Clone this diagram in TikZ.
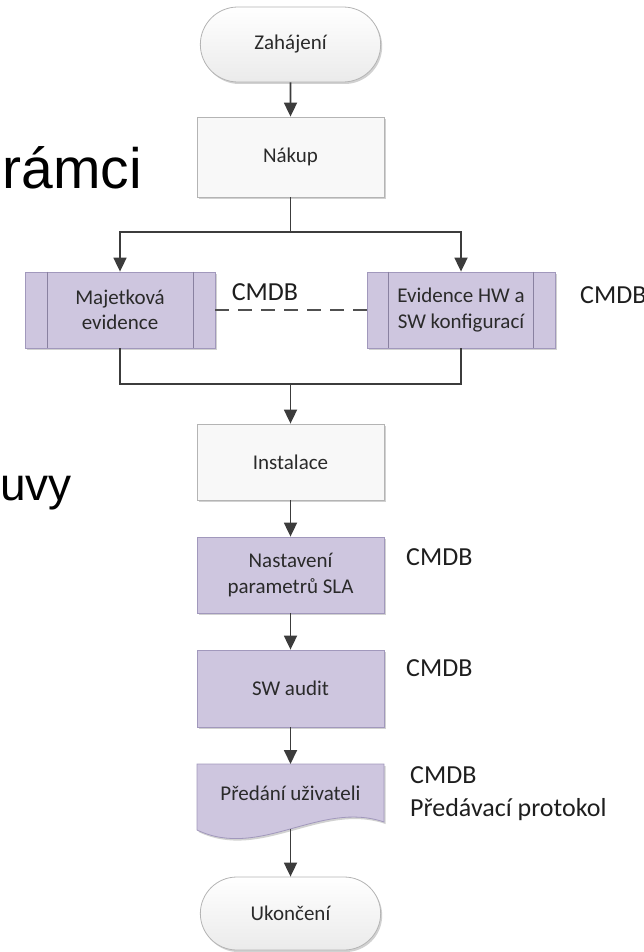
\documentclass[tikz,border=0pt]{standalone}
\usepackage{fontspec}
\setmainfont{Carlito}
\newfontfamily\arialfont{Liberation Sans}
\usetikzlibrary{arrows.meta,shapes.misc,calc,shadows}
\definecolor{linec}{HTML}{3C3C3C}
\definecolor{lightfill}{HTML}{F8F8F8}
\definecolor{lightborder}{HTML}{B4B4B4}
\definecolor{purplefill}{HTML}{CEC6DF}
\definecolor{purpleborder}{HTML}{A198BC}
\definecolor{boxtext}{HTML}{2A2A2A}
\definecolor{labeltext}{HTML}{1E1E1E}
\newcommand{\boxfont}{\fontsize{21}{25.5}\selectfont}
\newcommand{\labfont}{\fontsize{26}{33}\selectfont}
\newcommand{\bigfont}{\arialfont\fontsize{57}{64}\selectfont}
\newcommand{\midfont}{\arialfont\fontsize{46}{52}\selectfont}
\begin{document}
\begin{tikzpicture}[x=1pt,y=-1pt,
  conn/.style={draw=linec, line width=1.8pt, -{Triangle[length=14pt,width=13pt]}},
  plainline/.style={draw=linec, line width=1.8pt},
  dashline/.style={draw=linec!90, line width=1.6pt, dash pattern=on 14pt off 9pt},
  softshadow/.style={drop shadow={shadow xshift=1.5pt, shadow yshift=-2pt, opacity=0.18, fill=black}},
  basebox/.style={rectangle, minimum width=187pt, minimum height=77pt, inner sep=2pt,
    text=boxtext, font=\boxfont, align=center, line width=0.8pt, softshadow},
  lightbox/.style={basebox, draw=lightborder, fill=lightfill},
  purplebox/.style={basebox, draw=purpleborder, fill=purplefill},
  terminal/.style={rounded rectangle, minimum width=187pt, minimum height=75pt,
    draw=lightborder, line width=0.8pt, top color=white, bottom color=black!8,
    text=boxtext, font=\boxfont, softshadow},
  cmdb/.style={text=labeltext, font=\labfont, inner sep=0pt, align=left},
  bigtext/.style={text=black, font=\bigfont, inner sep=0pt}
]
\useasboundingbox (0,0) rectangle (643,952);

% large background words
\node[bigtext, anchor=base east] (w1) at (142,188) {rámci};
\node[bigtext, font=\midfont, anchor=base east] (w2) at (72,500) {uvy};

% nodes
\node[terminal] (zah) at (290.5,44.5) {Zahájení};
\node[lightbox, minimum height=80pt] (nak) at (290.5,157) {Nákup};
\node[purplebox, minimum width=190pt, minimum height=76pt] (maj) at (120,310) {Majetková\\evidence};
\node[purplebox, minimum width=188pt, minimum height=76pt] (evi) at (461,310) {Evidence HW a\\SW konfigurací};
\draw[purpleborder!85!black, line width=0.8pt] ($(maj.north west)+(23,0)$) -- ($(maj.south west)+(23,0)$);
\draw[purpleborder!85!black, line width=0.8pt] ($(maj.north east)+(-22,0)$) -- ($(maj.south east)+(-22,0)$);
\draw[purpleborder!85!black, line width=0.8pt] ($(evi.north west)+(22,0)$) -- ($(evi.south west)+(22,0)$);
\draw[purpleborder!85!black, line width=0.8pt] ($(evi.north east)+(-22,0)$) -- ($(evi.south east)+(-22,0)$);
\node[lightbox, minimum height=76pt] (inst) at (290.5,462) {Instalace};
\node[purplebox, minimum height=76pt] (nast) at (290.5,575) {Nastavení\\parametrů SLA};
\node[purplebox, minimum height=77pt] (swa) at (290.5,688.5) {SW audit};

% document shape
\path[fill=black, fill opacity=0.18] (198.5,766) -- (385.5,766) -- (385.5,824) .. controls (321.5,802) and (261.5,862) .. (198.5,832) -- cycle;
\path[fill=purplefill, draw=purpleborder, line width=0.8pt] (197,764) -- (384,764) -- (384,822) .. controls (320,800) and (260,860) .. (197,830) -- cycle;
\node[text=boxtext, font=\boxfont, inner sep=0pt] (pred) at (290.5,793) {Předání uživateli};
\coordinate (predb) at (290.5,829);

\node[terminal, minimum height=73pt] (ukon) at (290.5,913.5) {Ukončení};

% labels
\node[cmdb] (c1) at (265,292) {CMDB};
\node[cmdb, anchor=west] (c2) at (580,295) {CMDB};
\node[cmdb, anchor=west] (c3) at (406,557) {CMDB};
\node[cmdb, anchor=west] (c4) at (406,668) {CMDB};
\node[cmdb, anchor=west] (c5) at (410,793.5) {CMDB\\Předávací protokol};

% connectors
\coordinate (split) at (290.5,232);
\coordinate (merge) at (290.5,384);
\draw[conn] (zah) -- (nak);
\draw[plainline] (nak.south) -- (split);
\draw[conn] (split) -| (maj.north);
\draw[conn] (split) -| (evi.north);
\draw[plainline] (maj.south) |- (merge);
\draw[plainline] (evi.south) |- (merge);
\draw[conn] (merge) -- (inst.north);
\draw[dashline] (maj.east) -- (evi.west);
\draw[conn] (inst) -- (nast);
\draw[conn] (nast) -- (swa);
\draw[conn] (swa) -- (pred.north |- 0,764);
\draw[conn] (predb) -- (ukon.north);
\end{tikzpicture}
\end{document}
